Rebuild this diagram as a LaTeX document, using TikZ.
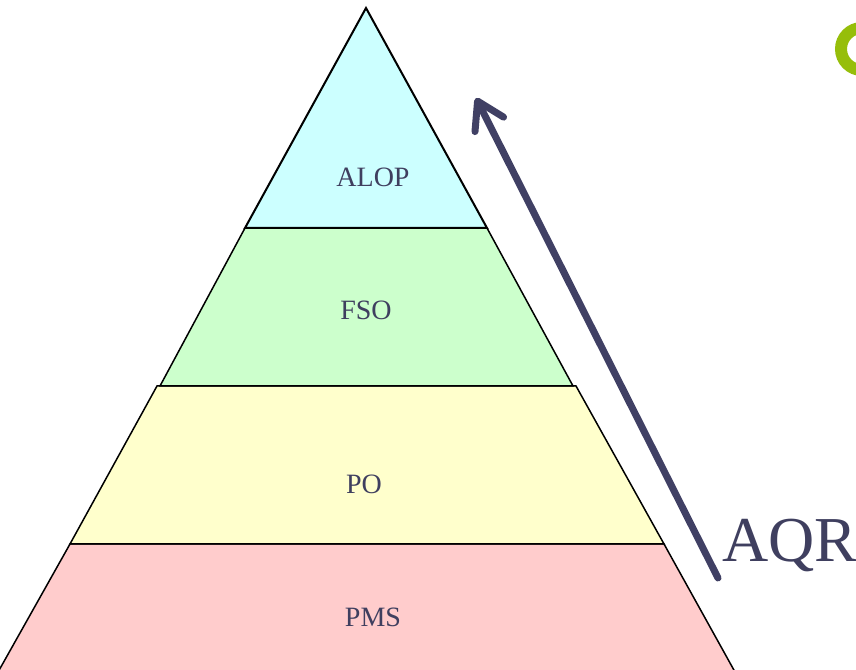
\documentclass[tikz,border=0pt]{standalone}
\usepackage{fontspec}
\setmainfont{Liberation Serif}
\usetikzlibrary{arrows.meta}
\definecolor{txt}{HTML}{3F3F5F}
\definecolor{arr}{HTML}{404064}
\definecolor{cALOP}{HTML}{CCFFFF}
\definecolor{cFSO}{HTML}{CCFFCC}
\definecolor{cPO}{HTML}{FFFFCC}
\definecolor{cPMS}{HTML}{FFCCCC}
\definecolor{lime}{HTML}{96BE0A}
\tikzset{
  layer/.style={draw=black, line width=1.5pt, line join=miter},
  lbl/.style={text=txt, font=\fontsize{28}{32}\selectfont, inner sep=0pt},
}
\begin{document}
\begin{tikzpicture}[x=1pt,y=1pt]
\useasboundingbox (0,0) rectangle (856,669);
\clip (0,0) rectangle (856,669);
% layers
\filldraw[layer, fill=cPMS] (70,125) -- (664,125) -- (740,-12) -- (-7,-12) -- cycle;
\filldraw[layer, fill=cPO] (157,283) -- (576,283) -- (664,125) -- (70,125) -- cycle;
\filldraw[layer, fill=cFSO] (245,441) -- (487,441) -- (573,283) -- (160,283) -- cycle;
\filldraw[layer, fill=cALOP, line width=2pt] (366,661) -- (487,441) -- (245,441) -- cycle;
% labels
\node[lbl] (alop) at (373,492) {ALOP};
\node[lbl] (fso) at (366,359) {FSO};
\node[lbl] (po) at (364,185) {PO};
\node[lbl] (pms) at (373,52) {PMS};
% arrow
\coordinate (from) at (718,91);
\coordinate (to) at (476,571);
\draw[arr, line width=7pt, line cap=round,
  -{Straight Barb[length=26pt, width=32pt, line cap=round, line join=round]}] (from) -- (to);
\node[text=txt, font=\fontsize{64}{70}\selectfont, anchor=base west, inner sep=0pt] (aqr) at (722,107) {AQR};
% partial green letter at top right
\draw[lime, line width=12pt] (862,620) ellipse (21 and 21);
\end{tikzpicture}
\end{document}
